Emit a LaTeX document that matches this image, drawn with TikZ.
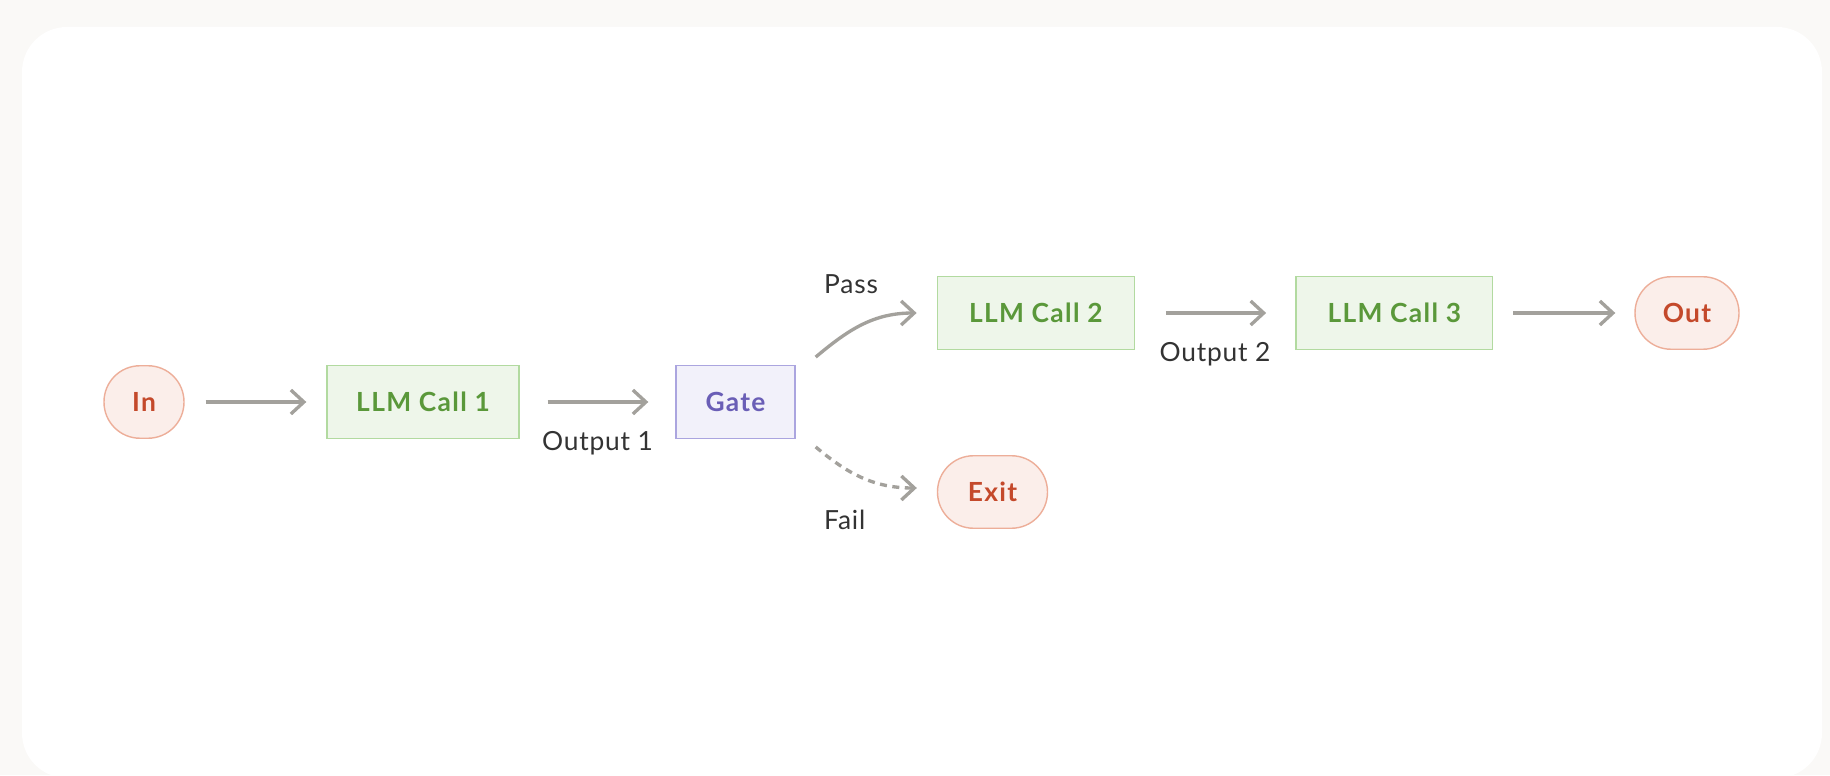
\documentclass[tikz,border=0pt]{standalone}
\usepackage{fontspec}
\setmainfont{Lato}
\usetikzlibrary{arrows.meta,calc,positioning}

\definecolor{pagebg}{HTML}{FAF9F7}
\definecolor{callfill}{HTML}{EEF6EA}
\definecolor{callline}{HTML}{B2DAA0}
\definecolor{calltext}{HTML}{5A983A}
\definecolor{gatefill}{HTML}{F2F1FA}
\definecolor{gateline}{HTML}{ABA5DF}
\definecolor{gatetext}{HTML}{6A5EB6}
\definecolor{pillfill}{HTML}{FBEEEA}
\definecolor{pillline}{HTML}{EDAE99}
\definecolor{pilltext}{HTML}{C4492B}
\definecolor{flowgray}{HTML}{A3A19C}
\definecolor{labeltext}{HTML}{333333}

\begin{document}
\begin{tikzpicture}[x=0.02cm,y=0.02cm,
  boxtext/.style={font=\fontsize{15}{18}\selectfont\bfseries\addfontfeature{LetterSpace=5}},
  callbox/.style={boxtext,draw=callline,fill=callfill,text=calltext,line width=0.8pt,minimum width=3.94cm,minimum height=1.45cm},
  gatebox/.style={boxtext,draw=gateline,fill=gatefill,text=gatetext,line width=0.8pt,minimum width=2.38cm,minimum height=1.45cm},
  endpill/.style={boxtext,draw=pillline,fill=pillfill,text=pilltext,line width=0.8pt,rounded corners=0.72cm,minimum height=1.45cm},
  flow/.style={draw=flowgray,line width=1.9pt,-{Straight Barb[length=0.26cm,width=0.48cm]}},
  flowlabel/.style={text=labeltext,font=\fontsize{15}{18}\selectfont\addfontfeature{LetterSpace=3}}]
\useasboundingbox (0,0) rectangle (1830,775);
\fill[pagebg] (0,0) rectangle (1830,775);
\fill[white,rounded corners=0.9cm] (22,-3) rectangle (1822,748);

% first row
\node[endpill,minimum width=1.6cm] (in) at (144,373) {In};
\node[callbox,minimum width=3.84cm] (call1) at (423,373) {LLM Call 1};
\node[gatebox] (gate) at (735.5,373) {Gate};

% pass row and fail exit
\node[callbox] (call2) at (1035.8,462) {LLM Call 2};
\node[callbox] (call3) at (1394.3,462) {LLM Call 3};
\node[endpill,minimum width=2.08cm] (out) at (1687,462) {Out};
\node[endpill,minimum width=2.2cm] (exit) at (992.5,283) {Exit};

\draw[flow,shorten <=0.42cm,shorten >=0.4cm] (in) -- (call1);
\draw[flow,shorten <=0.56cm,shorten >=0.54cm] (call1) -- (gate)
  node[midway,below=0.44cm,flowlabel] (out1label) {Output 1};
\draw[flow,shorten <=0.62cm,shorten >=0.58cm] (call2) -- (call3)
  node[midway,below=0.44cm,flowlabel] (out2label) {Output 2};
\draw[flow,shorten <=0.4cm,shorten >=0.38cm] (call3) -- (out);

\draw[flow] ($(gate.north east)+(20,8)$) to[out=40,in=180] ($(call2.west)+(-20,0)$);
\draw[flow,dash pattern=on 0.14cm off 0.11cm] ($(gate.south east)+(20,-8)$) to[out=-40,in=180] ($(exit.west)+(-20,4)$);

\node[flowlabel,anchor=base west] (passlabel) at (818,481) {Pass};
\node[flowlabel,anchor=base west] (faillabel) at (818,245.5) {Fail};
\end{tikzpicture}
\end{document}
